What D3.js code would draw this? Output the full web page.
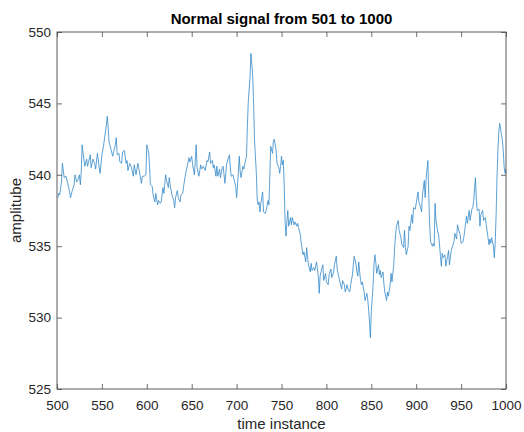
<!DOCTYPE html>
<html>
<head>
<meta charset="utf-8">
<script src="https://cdn.jsdelivr.net/npm/d3@7"></script>
<style>
  body { margin: 0; background: #fff; }
  svg { font-family: "Liberation Sans", Arial, sans-serif; }
</style>
</head>
<body>
<svg id="chart"></svg>
<script>
let w = 524;
let h = 432;

// time instances and amplitudes
let timeIdx = [
  501,502,503,505,506,508,510,512,514,515,517,519,520,522,523,525,526,527,528,530,
  531,533,534,537,538,540,542,543,545,547,548,550,552,553,555,556,557,558,560,562,
  563,565,566,567,569,570,572,573,575,577,578,579,581,583,585,586,588,590,591,594,
  595,597,599,600,602,603,604,606,607,609,610,612,613,615,616,618,619,621,622,624,
  625,626,628,630,631,632,634,635,637,638,640,641,643,646,647,648,650,651,653,655,
  656,658,660,661,663,665,667,668,670,671,673,674,675,677,678,679,681,682,684,685,
  687,688,689,692,693,694,696,697,699,700,701,703,704,705,707,708,709,711,712,713,
  715,716,718,719,720,722,723,724,725,726,727,729,730,732,733,735,736,737,738,740,
  741,742,744,745,747,748,749,750,751,752,753,754,755,756,757,758,760,761,762,764,
  765,767,768,769,771,772,774,775,777,778,780,782,783,784,786,787,789,791,792,793,
  794,796,797,799,800,802,803,805,806,808,809,811,812,814,815,817,818,820,821,823,
  824,826,827,829,830,831,833,834,835,836,838,839,840,842,843,845,846,847,848,849,
  850,852,853,854,855,856,858,859,860,861,863,864,865,867,868,869,871,872,873,875,
  876,877,878,880,881,883,884,886,887,888,889,891,892,893,895,896,897,899,901,902,
  903,905,906,907,909,910,911,913,914,915,916,918,919,920,921,922,924,925,927,928,
  929,930,932,933,935,936,937,939,940,942,943,945,946,947,949,950,952,953,954,956,
  957,959,960,962,963,964,966,967,968,970,971,972,974,975,977,978,980,981,982,983,
  984,986,987,988,989,990,991,992,993,995,996,997,998,999,1000
];

let amplitude = [
  538.4,538.7,538.6,539.5,540.8,539.8,539.9,539.4,538.8,538.4,538.9,539.3,540.0,539.5,539.6,540.0,539.3,540.2,542.1,541.0,
  540.6,541.1,540.6,541.4,540.5,541.1,540.8,540.4,541.5,540.5,540.1,541.4,542.1,542.6,543.5,544.1,543.3,542.3,541.8,541.3,
  541.6,542.1,542.6,541.4,541.5,540.9,540.8,541.6,541.7,540.8,541.0,540.3,540.8,540.5,539.9,540.7,540.0,540.8,540.5,539.4,
  539.9,539.9,540.0,542.1,541.6,540.7,539.3,539.2,538.6,538.1,538.7,537.9,538.2,538.0,538.1,539.1,538.7,540.0,539.6,539.1,
  539.8,539.3,538.6,538.2,537.7,538.4,538.9,538.4,538.1,538.6,538.7,539.2,540.0,540.9,541.2,540.9,541.3,540.7,540.0,542.1,
  540.5,539.9,540.7,540.4,540.6,540.3,541.0,540.9,541.6,540.8,541.0,540.5,540.7,539.9,540.6,539.9,540.4,539.8,540.5,540.6,
  539.4,540.1,540.8,541.4,540.5,539.9,540.0,539.7,539.2,538.4,539.2,541.3,540.2,539.8,540.6,540.4,540.7,541.3,543.4,545.1,
  546.9,548.5,546.9,544.8,542.4,540.1,538.2,537.9,538.1,537.4,538.0,538.8,537.4,537.3,537.5,538.2,537.9,539.9,542.0,541.5,
  542.4,542.5,541.7,540.8,540.5,540.1,540.6,541.3,540.7,541.0,539.3,536.7,535.7,536.7,537.5,536.4,537.0,536.5,537.0,536.5,
  536.7,536.4,536.6,536.3,535.8,535.2,534.4,534.6,533.9,534.9,533.7,533.2,533.8,533.3,533.5,533.3,533.9,532.9,531.7,532.9,
  533.2,533.7,532.6,533.1,532.5,532.3,533.0,533.4,532.8,533.2,533.7,534.3,533.4,532.8,532.5,532.0,532.6,532.3,531.8,532.3,
  532.0,531.8,532.3,533.0,533.7,534.3,533.7,533.2,532.9,533.9,532.6,532.3,532.5,531.8,531.2,531.7,531.3,530.6,529.7,528.6,
  530.4,532.3,533.7,534.4,533.9,533.1,533.7,533.0,533.3,532.8,533.2,532.4,531.8,531.2,531.8,531.5,532.3,533.1,532.5,533.7,
  534.9,535.8,536.4,536.8,536.1,535.6,535.1,534.9,536.1,534.9,534.4,535.0,536.4,536.1,537.2,536.6,537.7,537.6,538.4,538.8,
  538.1,537.7,537.4,538.6,539.6,538.4,539.7,541.0,538.6,536.5,535.3,535.0,535.2,535.0,538.0,536.8,536.0,535.8,534.3,533.6,
  534.5,534.2,534.4,533.6,534.3,534.7,533.7,534.7,534.9,535.3,535.9,535.5,536.5,536.2,535.8,535.2,535.3,535.6,536.1,537.1,
  536.6,537.5,536.8,537.6,537.7,538.2,539.8,538.2,537.5,537.6,536.4,537.2,537.5,536.8,537.0,536.5,535.6,535.1,535.5,535.2,
  535.6,535.0,534.2,535.3,537.2,539.9,541.7,543.0,543.6,542.8,542.4,541.6,540.5,540.1,540.4
];

let xTicks = [500, 550, 600, 650, 700, 750, 800, 850, 900, 950, 1000];
let yTicks = [525, 530, 535, 540, 545, 550];

let margin = { left: 57, right: 18, top: 32, bottom: 43 };
let axisColor = "#4a4a4a";
let textColor = "#262626";

let dataset = timeIdx.map((t, i) => ({ t: t, v: amplitude[i] }));

let chart1 = d3.select("#chart")
  .attr("width", w)
  .attr("height", h);

let xScale = d3.scaleLinear()
  .domain([500, 1000])
  .range([margin.left, w - margin.right]);

let yScale = d3.scaleLinear()
  .domain([525, 550])
  .range([h - margin.bottom, margin.top]);

// signal
chart1.append("path")
  .datum(dataset)
  .attr("fill", "none")
  .attr("stroke", "#3389c9")
  .attr("stroke-width", 0.8)
  .attr("stroke-linejoin", "round")
  .attr("d", d3.line()
    .x((d) => xScale(d.t))
    .y((d) => yScale(d.v))
  );

// axes, ticks point inward like matlab
let xAxis = d3.axisBottom(xScale).tickValues(xTicks).tickFormat(d3.format("d"))
  .tickSizeInner(-5).tickSizeOuter(0).tickPadding(11);
let yAxis = d3.axisLeft(yScale).tickValues(yTicks).tickFormat(d3.format("d"))
  .tickSizeInner(-5).tickSizeOuter(0).tickPadding(6);
let xTop = d3.axisTop(xScale).tickValues(xTicks).tickSizeInner(-5).tickSizeOuter(0).tickFormat("");
let yRight = d3.axisRight(yScale).tickValues(yTicks).tickSizeInner(-5).tickSizeOuter(0).tickFormat("");

function styleAxis(g) {
  g.select(".domain").remove();
  g.selectAll(".tick line").attr("stroke", axisColor).attr("stroke-width", 0.8);
  g.selectAll(".tick text")
    .attr("fill", textColor)
    .style("font-size", "13.5px")
    .style("font-family", "'Liberation Sans', Arial, sans-serif");
}

chart1.append("g")
  .attr("transform", `translate(0, ${h - margin.bottom})`)
  .call(xAxis).call(styleAxis);

chart1.append("g")
  .attr("transform", `translate(${margin.left}, 0)`)
  .call(yAxis).call(styleAxis);

chart1.append("g")
  .attr("transform", `translate(0, ${margin.top})`)
  .call(xTop).call(styleAxis);

chart1.append("g")
  .attr("transform", `translate(${w - margin.right}, 0)`)
  .call(yRight).call(styleAxis);

// box
chart1.append("rect")
  .attr("x", margin.left)
  .attr("y", margin.top)
  .attr("width", w - margin.left - margin.right)
  .attr("height", h - margin.top - margin.bottom)
  .attr("fill", "none")
  .attr("stroke", axisColor)
  .attr("stroke-width", 0.9);

// labels
let cx = (margin.left + w - margin.right) / 2;

chart1.append("text")
  .attr("x", cx)
  .attr("y", 24)
  .attr("text-anchor", "middle")
  .style("font-size", "15px")
  .style("font-weight", "bold")
  .attr("fill", "#000")
  .text("Normal signal from 501 to 1000");

chart1.append("text")
  .attr("x", cx)
  .attr("y", 429)
  .attr("text-anchor", "middle")
  .style("font-size", "15px")
  .attr("fill", textColor)
  .text("time instance");

chart1.append("text")
  .attr("transform", `translate(21, ${(margin.top + h - margin.bottom) / 2}) rotate(-90)`)
  .attr("text-anchor", "middle")
  .style("font-size", "15px")
  .attr("fill", textColor)
  .text("amplitube");
</script>
</body>
</html>
